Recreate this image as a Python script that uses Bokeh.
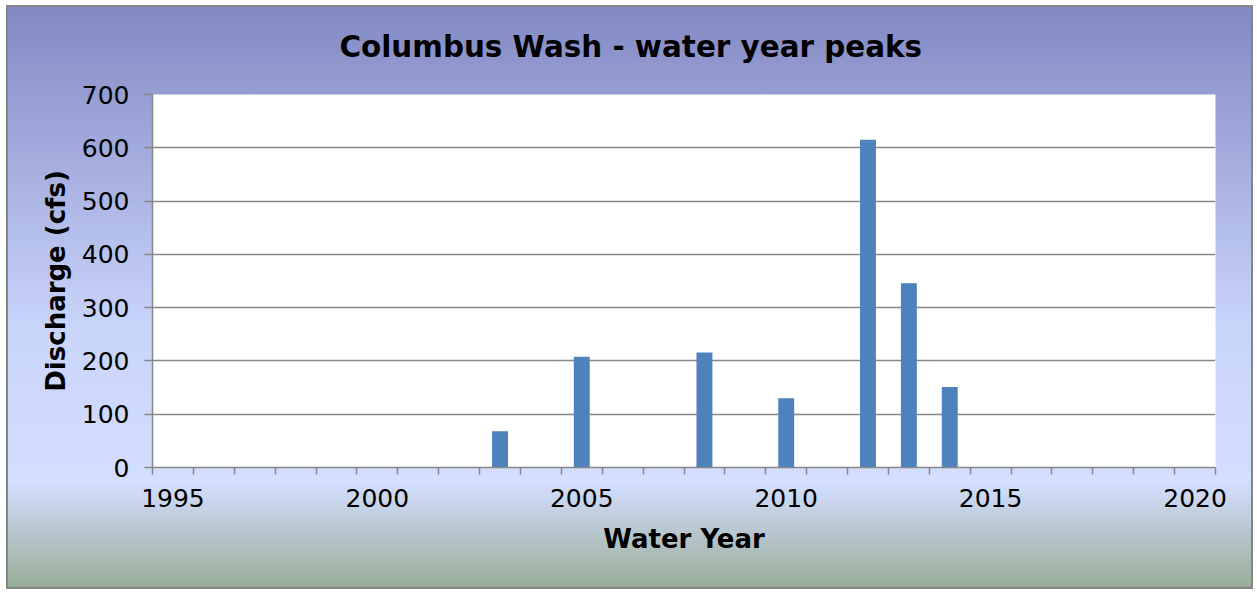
from bokeh.plotting import figure
from bokeh.models import FixedTicker, Range1d
from bokeh.embed import file_html
from bokeh.resources import INLINE

# ---- data ----
years = [2003, 2005, 2008, 2010, 2012, 2013, 2014]
peaks = [68, 208, 216, 130, 615, 346, 151]
x_labels = [1995, 2000, 2005, 2010, 2015, 2020]
y_ticks = [0, 100, 200, 300, 400, 500, 600, 700]
title_text = "Columbus Wash - water year peaks"

# ---- layout ----
W, H = 1254, 590
ML, MR, MT, MB = 152, 39, 94, 123
x0, x1 = x_labels[0] - 0.5, x_labels[-1] + 0.5
y0, y1 = 0, 700

FONT = "DejaVu Sans"

p = figure(width=W, height=H, output_backend="svg", toolbar_location=None,
           x_range=Range1d(x0, x1), y_range=Range1d(y0, y1),
           min_border_left=ML, min_border_right=MR, min_border_top=MT, min_border_bottom=MB)

p.border_fill_color = None
p.background_fill_color = "white"
p.outline_line_color = None
p.styles = {
    "background-image": ("linear-gradient(to bottom, #8289c3 0%, #c9d4fb 55%, #d4deff 82%, #98ad97 100%), "
                         "linear-gradient(#858585, #858585)"),
    "background-position": "8px 7px, 6px 5px",
    "background-size": "1243px 580px, 1247px 584px",
    "background-repeat": "no-repeat",
}

p.vbar(x=years, top=peaks, width=0.39, fill_color="#4f81bd", line_color=None)

# title
p.title.text = title_text
p.title.align = "left"
p.title.vertical_align = "top"
p.title.offset = 187
p.title.text_font = FONT
p.title.text_font_style = "bold"
p.title.text_font_size = "29.4px"
p.title.text_color = "black"
p.title.standoff = 58

# grid
p.xgrid.grid_line_color = None
p.ygrid.grid_line_color = "#878787"
p.ygrid.grid_line_width = 1.5
p.ygrid.ticker = FixedTicker(ticks=y_ticks)

# x axis
xa = p.xaxis[0]
xa.ticker = FixedTicker(ticks=x_labels, minor_ticks=[x0 + i for i in range(int(x1 - x0) + 1)])
xa.axis_line_color = "#878787"
xa.axis_line_width = 1.5
xa.major_tick_line_color = None
xa.major_tick_out = 7
xa.major_tick_in = 0
xa.minor_tick_line_color = "#878787"
xa.minor_tick_line_width = 1.5
xa.minor_tick_out = 7
xa.minor_tick_in = 0
xa.major_label_text_font = FONT
xa.major_label_text_font_size = "25px"
xa.major_label_text_color = "black"
xa.major_label_standoff = 14
xa.axis_label = "Water Year"
xa.axis_label_text_font = FONT
xa.axis_label_text_font_style = "bold"
xa.axis_label_text_font_size = "26px"
xa.axis_label_text_color = "black"
xa.axis_label_standoff = 14

# y axis
ya = p.yaxis[0]
ya.ticker = FixedTicker(ticks=y_ticks)
ya.axis_line_color = "#878787"
ya.axis_line_width = 1.5
ya.major_tick_line_color = "#878787"
ya.major_tick_line_width = 1.5
ya.major_tick_out = 8
ya.major_tick_in = 0
ya.minor_tick_line_color = None
ya.major_label_text_font = FONT
ya.major_label_text_font_size = "25px"
ya.major_label_text_color = "black"
ya.major_label_standoff = 15
ya.axis_label = "Discharge (cfs)"
ya.axis_label_text_font = FONT
ya.axis_label_text_font_style = "bold"
ya.axis_label_text_font_size = "26px"
ya.axis_label_text_color = "black"
ya.axis_label_standoff = 8

open("out.html", "w").write(file_html(p, INLINE))
